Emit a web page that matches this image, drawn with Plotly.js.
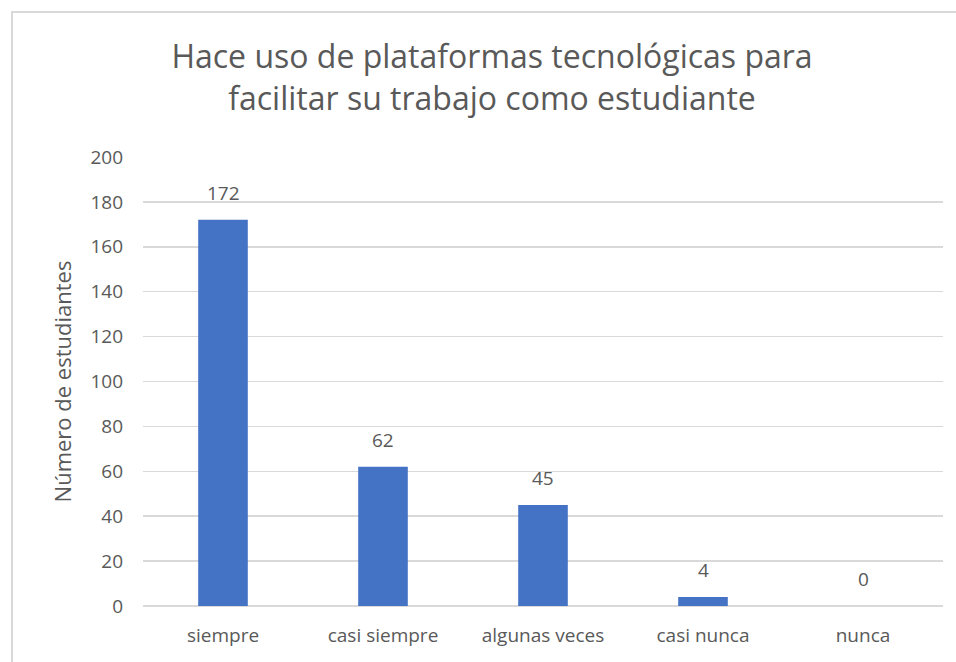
<!DOCTYPE html>
<html>
<head>
<meta charset="utf-8">
<script src="https://cdn.plot.ly/plotly-3.0.1.min.js"></script>
<style>
html,body{margin:0;padding:0;background:#fff;overflow:hidden;}
#frame{position:absolute;left:11px;top:11px;width:960px;height:660px;border:2px solid #d9d9d9;box-sizing:border-box;}
#chart{position:absolute;left:0;top:0;width:956px;height:662px;}
</style>
</head>
<body>
<div id="frame"></div>
<div id="chart"></div>
<script>
const categories = ["siempre", "casi siempre", "algunas veces", "casi nunca", "nunca"];
const values = [172, 62, 45, 4, 0];
const yTicks = [0, 20, 40, 60, 80, 100, 120, 140, 160, 180, 200];
const titleText = "Hace uso de plataformas tecnológicas para<br>facilitar su trabajo como estudiante";
const yTitle = "Número de estudiantes";

const font = "Open Sans, Lato, sans-serif";
const grey = "#595959";

const labels = categories.map((c, i) => ({
  x: c, y: values[i], xref: "x", yref: "y",
  text: String(values[i]), showarrow: false,
  yanchor: "bottom", yshift: 12,
  font: {family: font, size: 19, color: grey}
}));

Plotly.newPlot("chart", [{
  type: "bar",
  x: categories,
  y: values,
  marker: {color: "#4472C4"},
  width: 0.31,
  hoverinfo: "none"
}], {
  width: 956, height: 662,
  paper_bgcolor: "rgba(0,0,0,0)",
  plot_bgcolor: "rgba(0,0,0,0)",
  margin: {l: 143, r: 13, t: 157, b: 56},
  title: {
    text: titleText,
    font: {family: font, size: 32, color: grey},
    x: 492/956, xref: "container", xanchor: "center",
    y: 1 - 68/662, yref: "container", yanchor: "middle"
  },
  annotations: labels,
  xaxis: {
    type: "category",
    tickfont: {family: font, size: 19, color: grey},
    showgrid: false, showline: false, ticks: "", ticklen: 0,
    ticklabelstandoff: 16
  },
  yaxis: {
    range: [0, 200],
    tickvals: yTicks,
    ticktext: yTicks.map(String),
    tickfont: {family: font, size: 19, color: grey},
    gridcolor: "#d9d9d9", gridwidth: 1.5,
    zeroline: true, zerolinecolor: "#d9d9d9", zerolinewidth: 1.5,
    showline: false, ticks: "", ticklabelstandoff: 19,
    title: {text: yTitle, font: {family: font, size: 22, color: grey}, standoff: 12}
  },
  showlegend: false
}, {displayModeBar: false, staticPlot: true});
</script>
</body>
</html>
